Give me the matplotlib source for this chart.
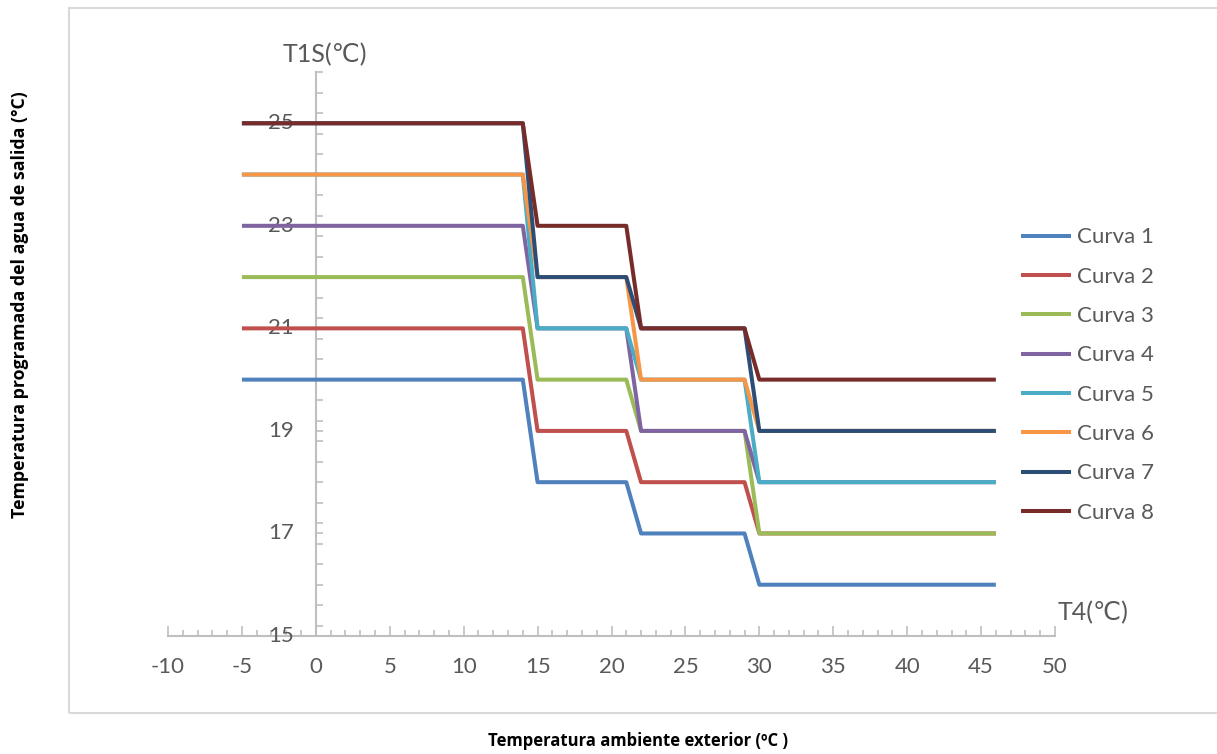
import matplotlib
matplotlib.use("Agg")
import matplotlib.pyplot as plt
from matplotlib.patches import Rectangle
from matplotlib.ticker import MultipleLocator, FixedLocator

plt.rcParams["axes.unicode_minus"] = False

# ---- data ----
t4_points = [-5, 14, 15, 21, 22, 29, 30, 46]
curva_1 = [20, 20, 18, 18, 17, 17, 16, 16]
curva_2 = [21, 21, 19, 19, 18, 18, 17, 17]
curva_3 = [22, 22, 20, 20, 19, 19, 17, 17]
curva_4 = [23, 23, 21, 21, 19, 19, 18, 18]
curva_5 = [24, 24, 21, 21, 20, 20, 18, 18]
curva_6 = [24, 24, 22, 22, 20, 20, 19, 19]
curva_7 = [25, 25, 22, 22, 21, 21, 19, 19]
curva_8 = [25, 25, 23, 23, 21, 21, 20, 20]
series_names = ["Curva 1", "Curva 2", "Curva 3", "Curva 4",
                "Curva 5", "Curva 6", "Curva 7", "Curva 8"]
series_colors = ["#4F81BD", "#C0504D", "#9BBB59", "#8064A2",
                 "#4BACC6", "#F79646", "#2C4D75", "#772C2A"]
x_ticks = [-10, -5, 0, 5, 10, 15, 20, 25, 30, 35, 40, 45, 50]
y_ticks = [15, 17, 19, 21, 23, 25]

series = [curva_1, curva_2, curva_3, curva_4, curva_5, curva_6, curva_7, curva_8]

FONT = ["Lato", "DejaVu Sans"]
GRAY = "#595959"
AXC = "#BFBFBF"

fig = plt.figure(figsize=(12.17, 7.54), dpi=100)

# chart border
fig.patches.append(Rectangle((69 / 1217, 1 - 713 / 754), 1.2, (713 - 8) / 754,
                             transform=fig.transFigure, fill=False,
                             edgecolor="#D9D9D9", linewidth=1.5))

ax = fig.add_axes([168 / 1217, 1 - 636 / 754, 887 / 1217, 564 / 754])
ax.set_xlim(-10, 50)
ax.set_ylim(15, 26)

lines = []
for vals, name, col in zip(series, series_names, series_colors):
    ln, = ax.plot(t4_points, vals, color=col, linewidth=2.9, label=name,
                  solid_joinstyle="round", solid_capstyle="butt")
    lines.append(ln)

for s in ["top", "right"]:
    ax.spines[s].set_visible(False)
ax.spines["left"].set_position(("data", 0))
for s in ["left", "bottom"]:
    ax.spines[s].set_color(AXC)
    ax.spines[s].set_linewidth(1.5)
    ax.spines[s].set_zorder(0.5)

ax.xaxis.set_major_locator(FixedLocator(x_ticks))
ax.xaxis.set_minor_locator(MultipleLocator(1))
ax.yaxis.set_major_locator(FixedLocator(y_ticks))
ax.yaxis.set_minor_locator(MultipleLocator(0.4))

ax.tick_params(axis="x", which="major", direction="in", length=7, width=1.2,
               color=AXC, pad=15, labelsize=16, labelcolor=GRAY)
ax.tick_params(axis="x", which="minor", direction="in", length=4, width=1.2,
               color=AXC)
ax.tick_params(axis="y", which="major", direction="in", length=5, width=1.2,
               color=AXC, pad=16, labelsize=16, labelcolor=GRAY)
ax.tick_params(axis="y", which="minor", direction="in", length=5, width=1.2,
               color=AXC)
for lab in ax.get_xticklabels() + ax.get_yticklabels():
    lab.set_fontfamily(FONT)
for lab in ax.get_yticklabels():
    lab.set_verticalalignment("center")

ax.set_facecolor("none")

# axis end titles
fig.text(325 / 1217, 1 - 55 / 754, "T1S(℃)", ha="center", va="center",
         fontsize=18, color=GRAY, family=FONT)
fig.text(1093 / 1217, 1 - 613 / 754, "T4(℃)", ha="center", va="center",
         fontsize=18, color=GRAY, family=FONT)

# axis titles
fig.text(20 / 1217, 1 - 305 / 754, "Temperatura programada del agua de salida (°C)",
         rotation=90, ha="center", va="center", fontsize=12.8, fontweight="bold",
         color="black", family=["Open Sans", "DejaVu Sans"])
fig.text(638 / 1217, 1 - 741 / 754, "Temperatura ambiente exterior (ºC )",
         ha="center", va="center", fontsize=12, fontweight="bold",
         color="black", family=["Open Sans", "DejaVu Sans"])

leg = fig.legend(handles=lines, loc="center left",
                 bbox_to_anchor=(1012 / 1217, 1 - 375 / 754),
                 frameon=False, fontsize=16, handlelength=2.25,
                 handletextpad=0.28, labelspacing=0.87, borderaxespad=0)
for t in leg.get_texts():
    t.set_color(GRAY)
    t.set_fontfamily(FONT)

fig.savefig("out.png", dpi=100)
